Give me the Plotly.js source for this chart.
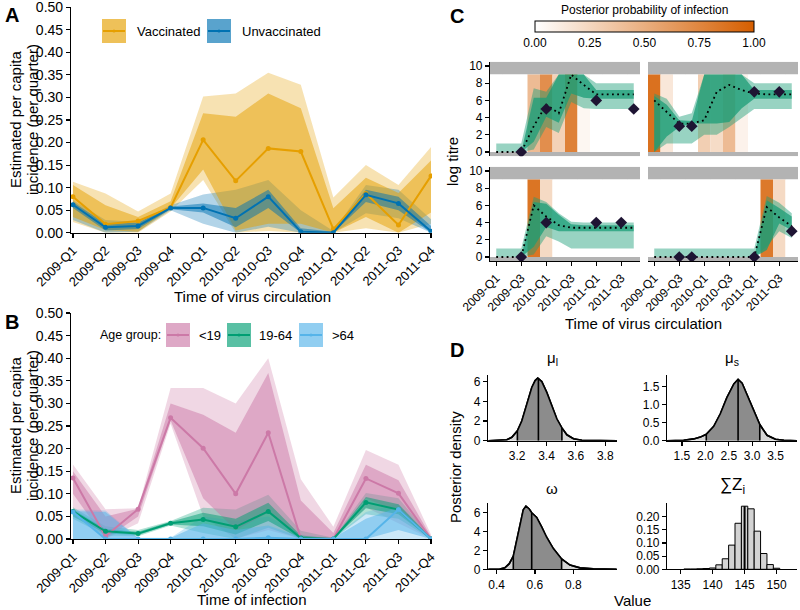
<!DOCTYPE html>
<html><head><meta charset="utf-8">
<script src="https://cdn.plot.ly/plotly-3.0.1.min.js"></script>
<style>body{margin:0;padding:0;background:#fff}#chart{width:800px;height:610px}</style>
</head><body><div id="chart"></div>
<script>
// ---------- DATA ----------
const quarters = ['2009-Q1','2009-Q2','2009-Q3','2009-Q4','2010-Q1','2010-Q2','2010-Q3','2010-Q4','2011-Q1','2011-Q2','2011-Q3','2011-Q4'];

// Panel A: vaccinated / unvaccinated incidence
const vacMed   = [0.080,0.019,0.026,0.056,0.206,0.115,0.187,0.180,0.008,0.087,0.017,0.126];
const vacInLo  = [0.035,0.006,0.002,0.054,0.140,0.005,0.020,0.020,0.000,0.035,0.000,0.045];
const vacInHi  = [0.106,0.061,0.035,0.070,0.265,0.257,0.309,0.276,0.054,0.122,0.088,0.160];
const vacOutLo = [0.024,0.000,0.000,0.047,0.117,0.000,0.004,0.000,0.000,0.010,0.000,0.020];
const vacOutHi = [0.113,0.087,0.047,0.087,0.302,0.309,0.355,0.328,0.078,0.150,0.106,0.190];
const unvMed   = [0.062,0.012,0.015,0.055,0.055,0.032,0.080,0.002,0.000,0.084,0.065,0.003];
const unvInLo  = [0.055,0.005,0.008,0.052,0.045,0.012,0.055,0.000,0.000,0.068,0.050,0.000];
const unvInHi  = [0.068,0.020,0.022,0.058,0.065,0.055,0.095,0.010,0.002,0.095,0.080,0.015];
const unvOutLo = [0.028,0.000,0.002,0.050,0.020,0.000,0.013,0.000,0.000,0.043,0.032,0.000];
const unvOutHi = [0.072,0.028,0.024,0.061,0.085,0.095,0.117,0.050,0.004,0.106,0.095,0.030];

// Panel B: age groups
const ageGroups = ['<19','19-64','>64'];
const yngMed   = [0.135,0.006,0.066,0.268,0.201,0.100,0.235,0.001,0.000,0.134,0.101,0.000];
const yngInLo  = [0.100,0.000,0.050,0.262,0.090,0.020,0.058,0.000,0.000,0.090,0.060,0.000];
const yngInHi  = [0.150,0.050,0.067,0.300,0.275,0.235,0.367,0.085,0.013,0.164,0.130,0.005];
const yngOutLo = [0.060,0.000,0.035,0.255,0.050,0.000,0.020,0.000,0.000,0.070,0.035,0.000];
const yngOutHi = [0.165,0.066,0.068,0.334,0.334,0.300,0.400,0.132,0.027,0.197,0.164,0.010];
const adlMed   = [0.061,0.017,0.012,0.035,0.043,0.027,0.061,0.002,0.000,0.081,0.065,0.000];
const adlInLo  = [0.050,0.012,0.009,0.032,0.028,0.010,0.040,0.000,0.000,0.068,0.055,0.000];
const adlInHi  = [0.066,0.022,0.016,0.038,0.058,0.045,0.080,0.008,0.001,0.093,0.077,0.002];
const adlOutLo = [0.045,0.008,0.006,0.030,0.013,0.000,0.025,0.000,0.000,0.055,0.045,0.000];
const adlOutHi = [0.070,0.028,0.020,0.040,0.069,0.065,0.098,0.018,0.003,0.102,0.090,0.005];
const oldMed   = [0.060,0.000,0.000,0.000,0.000,0.000,0.003,0.000,0.000,0.000,0.065,0.000];
const oldInLo  = [0.000,0.000,0.000,0.000,0.000,0.000,0.000,0.000,0.000,0.000,0.020,0.000];
const oldInHi  = [0.062,0.060,0.002,0.002,0.035,0.020,0.030,0.005,0.002,0.045,0.070,0.002];
const oldOutLo = [0.000,0.000,0.000,0.000,0.000,0.000,0.000,0.000,0.000,0.000,0.000,0.000];
const oldOutHi = [0.066,0.063,0.003,0.003,0.050,0.040,0.050,0.010,0.003,0.060,0.078,0.004];

// Panel C: four individuals (titre trajectories)
const cTickVals = [0,2,4,6,8,10];
const cTickText = ['2009-Q1','2009-Q3','2010-Q1','2010-Q3','2011-Q1','2011-Q3'];
const titreTicks = [0,2,4,6,8,10];
const detectLow = [-0.5, 0];
const detectHigh = [9, 10.5];
const probTop = 9;
const tlProb = [0,0,0,0.42,0.70,0.28,0.78,0.05,0,0,0,0];
const trProb = [0.88,0.15,0,0,0.30,0.22,0.42,0.08,0,0,0,0];
const blProb = [0,0,0,0.86,0.23,0,0,0,0,0,0,0];
const brProb = [0,0,0,0,0,0,0,0,0,0.83,0.23,0];
const tlLightLo = [0,0,0,0.3,2.9,2.2,5.8,5.1,5.0,5.0,5.0,5.0];
const tlLightHi = [1,1,1,7.4,7.0,9,9,9,8.0,8.0,8.0,8.0];
const tlDarkLo  = [0,0,0,1.2,4.1,3.4,6.8,6.3,6.2,6.2,6.2,6.2];
const tlDarkHi  = [0,0,0,6.3,6.3,9,9,9,7.2,7.2,7.2,7.2];
const tlMed     = [0,0,0,3.0,5.5,4.5,9.0,7.8,6.7,6.7,6.7,6.7];
const trLightLo = [0,1.0,1.0,1.0,2.0,2.0,2.9,4.0,5.0,5.0,5.0,5.0];
const trLightHi = [6.8,6.2,4.1,4.5,9,9,9,9,8.0,8.0,8.0,8.0];
const trDarkLo  = [0,1.8,2.9,3.3,3.3,3.3,3.5,5.1,6.2,6.2,6.2,6.2];
const trDarkHi  = [6.5,5.5,3.7,3.6,9,9,9,9,7.2,7.2,7.2,7.2];
const trMed     = [6.0,4.7,3.3,3.3,3.7,7.0,7.8,7.2,6.8,6.7,6.7,6.7];
const blLightLo = [0,0,0,0.3,2.4,1.8,1.0,1.0,1.0,1.0,1.0,1.0];
const blLightHi = [1,1,1,7.0,6.4,5.1,4.1,4.0,4.0,4.0,4.0,4.0];
const blDarkLo  = [0,0,0,1.2,3.5,3.0,3.0,3.0,3.0,3.0,3.0,3.0];
const blDarkHi  = [0,0,0,6.4,6.2,4.9,3.8,3.7,3.7,3.7,3.7,3.7];
const blMed     = [0,0,0,6.0,4.7,3.7,3.4,3.4,3.4,3.4,3.4,3.4];
const brLightLo = [0,0,0,0,0,0,0,0,0,1.2,3.0,2.2];
const brLightHi = [1,1,1,1,1,1,1,1,1,7.1,6.3,5.1];
const brDarkLo  = [0,0,0,0,0,0,0,0,0,0.8,3.9,3.1];
const brDarkHi  = [0,0,0,0,0,0,0,0,0,6.6,5.7,4.7];
const brMed     = [0,0,0,0,0,0,0,0,0,5.8,4.6,3.6];
const tlObsX = [2,4,8,11], tlObsY = [0,5,6,5];
const trObsX = [2,3,8,10], trObsY = [3,3,7,7];
const blObsX = [2,4,8,10], blObsY = [0,4,4,4];
const brObsX = [2,3,8,11], brObsY = [0,0,0,3];

// Panel D: posterior densities
const mulX = [3.004,3.084,3.13,3.164,3.202,3.232,3.266,3.3,3.323,3.341,3.345,3.368,3.402,3.437,3.471,3.505,3.539,3.584,3.641,3.766,3.88];
const mulD = [0,0.02,0.1,0.35,1.0,2.0,3.8,5.4,6.1,6.35,6.3,6.0,4.9,3.5,2.2,1.3,0.6,0.2,0.05,0.005,0];
const mulQ = [3.202,3.345,3.505];
const musX = [1.18,1.536,1.75,1.893,2.02,2.18,2.32,2.46,2.61,2.7,2.786,2.89,3.0,3.164,3.32,3.5,3.68,3.96];
const musD = [0,0.01,0.05,0.1,0.18,0.4,0.75,1.2,1.58,1.71,1.6,1.3,0.95,0.45,0.15,0.04,0.01,0];
const musQ = [2.02,2.7,3.164];
const omX = [0.357,0.417,0.443,0.466,0.487,0.504,0.522,0.539,0.553,0.57,0.583,0.609,0.635,0.661,0.696,0.739,0.783,0.835,0.904,1.026];
const omD = [0,0.02,0.15,0.6,1.4,3.0,5.0,6.3,6.7,6.4,6.0,5.5,4.5,3.4,2.2,1.1,0.45,0.15,0.04,0];
const omQ = [0.487,0.583,0.739];
const sumZVals = [136,137,138,139,140,141,142,143,144,145,146,147,148,149,150];
const sumZProb = [0.001,0.001,0.002,0.003,0.005,0.017,0.040,0.092,0.175,0.240,0.230,0.145,0.060,0.018,0.004];
const sumZMed = 145;

// ---------- STYLE ----------
const FONT = 'Liberation Sans, Arial, Helvetica, sans-serif';
const cOrange = [230,159,0], cBlue = [0,114,178];
const cPink = [204,121,167], cGreen = [0,158,115], cSky = [86,180,233];
const cTeal = [27,158,119];
const rgba = (c,a) => `rgba(${c[0]},${c[1]},${c[2]},${a})`;
const OUT = 0.3, INN = 0.5;
const W = 800, H = 610;
const px = p => p / W, py = p => 1 - p / H;
const qIdx = quarters.map((q,i) => i);

const traces = [];
function ribbon(xs, lo, hi, xa, ya, color) {
  return {type:'scatter', mode:'lines', x: xs.concat(xs.slice().reverse()),
    y: lo.concat(hi.slice().reverse()), fill:'toself', fillcolor: color,
    line:{width:0}, hoverinfo:'skip', xaxis:xa, yaxis:ya, showlegend:false};
}
function medLine(xs, ys, xa, ya, c) {
  return {type:'scatter', mode:'lines+markers', x: xs, y: ys, xaxis:xa, yaxis:ya,
    line:{color: rgba(c,1), width:2}, marker:{color: rgba(c,1), size:5}, showlegend:false};
}

// Panel A
traces.push(ribbon(qIdx, vacOutLo, vacOutHi, 'x','y', rgba(cOrange,OUT)));
traces.push(ribbon(qIdx, unvOutLo, unvOutHi, 'x','y', rgba(cBlue,OUT)));
traces.push(ribbon(qIdx, vacInLo, vacInHi, 'x','y', rgba(cOrange,INN)));
traces.push(ribbon(qIdx, unvInLo, unvInHi, 'x','y', rgba(cBlue,INN)));
traces.push(medLine(qIdx, vacMed, 'x','y', cOrange));
traces.push(medLine(qIdx, unvMed, 'x','y', cBlue));

// Panel B
traces.push(ribbon(qIdx, yngOutLo, yngOutHi, 'x2','y2', rgba(cPink,OUT)));
traces.push(ribbon(qIdx, adlOutLo, adlOutHi, 'x2','y2', rgba(cGreen,OUT)));
traces.push(ribbon(qIdx, oldOutLo, oldOutHi, 'x2','y2', rgba(cSky,OUT)));
traces.push(ribbon(qIdx, yngInLo, yngInHi, 'x2','y2', rgba(cPink,INN)));
traces.push(ribbon(qIdx, adlInLo, adlInHi, 'x2','y2', rgba(cGreen,INN)));
traces.push(ribbon(qIdx, oldInLo, oldInHi, 'x2','y2', rgba(cSky,INN)));
traces.push(medLine(qIdx, yngMed, 'x2','y2', cPink));
traces.push(medLine(qIdx, adlMed, 'x2','y2', cGreen));
traces.push(medLine(qIdx, oldMed, 'x2','y2', cSky));

// Panel C
const probScale = [[0,'#FFFFFF'],[1,'#D55E00']];
const panelsC = [
  {xa:'x3', ya:'y3', prob:tlProb, lLo:tlLightLo, lHi:tlLightHi, dLo:tlDarkLo, dHi:tlDarkHi, med:tlMed, ox:tlObsX, oy:tlObsY},
  {xa:'x4', ya:'y4', prob:trProb, lLo:trLightLo, lHi:trLightHi, dLo:trDarkLo, dHi:trDarkHi, med:trMed, ox:trObsX, oy:trObsY},
  {xa:'x5', ya:'y5', prob:blProb, lLo:blLightLo, lHi:blLightHi, dLo:blDarkLo, dHi:blDarkHi, med:blMed, ox:blObsX, oy:blObsY},
  {xa:'x6', ya:'y6', prob:brProb, lLo:brLightLo, lHi:brLightHi, dLo:brDarkLo, dHi:brDarkHi, med:brMed, ox:brObsX, oy:brObsY}
];
panelsC.forEach((p, k) => {
  const bar = {type:'bar', x: qIdx, y: qIdx.map(() => probTop), base: 0, width: 1,
    xaxis:p.xa, yaxis:p.ya, hoverinfo:'skip', showlegend:false,
    marker:{color: p.prob, colorscale: probScale, cmin:0, cmax:1, line:{width:0}, showscale: k === 0}};
  if (k === 0) {
    bar.marker.colorbar = {orientation:'h', x: px(644.5), xanchor:'center', y: py(47), yanchor:'bottom',
      len:219, lenmode:'pixels', thickness:11, thicknessmode:'pixels',
      outlinecolor:'#000', outlinewidth:1, xpad:0, ypad:0, ticks:'',
      tickvals:[0,0.25,0.5,0.75,1], ticktext:['0.00','0.25','0.50','0.75','1.00'],
      tickfont:{size:12, family:FONT, color:'#000'}, ticklabelposition:'outside bottom'};
  }
  traces.push(bar);
  traces.push(ribbon(qIdx, p.lLo, p.lHi, p.xa, p.ya, rgba(cTeal,0.45)));
  traces.push(ribbon(qIdx, p.dLo, p.dHi, p.xa, p.ya, rgba(cTeal,0.75)));
  traces.push({type:'scatter', mode:'lines', x: qIdx, y: p.med, xaxis:p.xa, yaxis:p.ya,
    line:{color:'#000', width:1.8, dash:'1.8px,3.4px'}, showlegend:false});
  traces.push({type:'scatter', mode:'markers', x: p.ox, y: p.oy, xaxis:p.xa, yaxis:p.ya,
    marker:{symbol:'diamond', size:9, color:'#1E1433'}, showlegend:false});
});

// Panel D densities
function densityTraces(xs, ds, qs, xa, ya) {
  const out = [];
  out.push({type:'scatter', mode:'lines', x: xs, y: ds, xaxis:xa, yaxis:ya, fill:'tozeroy',
    fillcolor:'#D3D3D3', line:{color:'#000', width:1.6}, showlegend:false});
  const mx = [], my = [];
  xs.forEach((v, i) => { if (v >= qs[0] && v <= qs[2]) { mx.push(v); my.push(ds[i]); } });
  out.push({type:'scatter', mode:'lines', x: [qs[0]].concat(mx, [qs[2]]), y: [0].concat(my, [0]),
    xaxis:xa, yaxis:ya, fill:'toself', fillcolor:'#8C8C8C', line:{width:0}, showlegend:false});
  out.push({type:'scatter', mode:'lines', x: xs, y: ds, xaxis:xa, yaxis:ya,
    line:{color:'#000', width:1.6}, showlegend:false});
  const lx = [], ly = [];
  qs.forEach(q => { const i = xs.indexOf(q); lx.push(q, q, null); ly.push(0, ds[i], null); });
  out.push({type:'scatter', mode:'lines', x: lx, y: ly, xaxis:xa, yaxis:ya,
    line:{color:'#000', width:1.6}, showlegend:false});
  return out;
}
traces.push(...densityTraces(mulX, mulD, mulQ, 'x7','y7'));
traces.push(...densityTraces(musX, musD, musQ, 'x8','y8'));
traces.push(...densityTraces(omX, omD, omQ, 'x9','y9'));
traces.push({type:'bar', x: sumZVals, y: sumZProb, width:1, xaxis:'x10', yaxis:'y10',
  marker:{color:'#D3D3D3', line:{color:'#000', width:1}}, showlegend:false});
traces.push({type:'scatter', mode:'lines', x:[sumZMed, sumZMed],
  y:[0, sumZProb[sumZVals.indexOf(sumZMed)]], xaxis:'x10', yaxis:'y10',
  line:{color:'#000', width:2}, showlegend:false});

// ---------- AXES ----------
function axis(domain, range, anchor, extra) {
  return Object.assign({domain, range, anchor, showgrid:false, zeroline:false, showline:true,
    linecolor:'#000', linewidth:1.1, ticks:'outside', ticklen:4, tickwidth:1.1, tickcolor:'#000',
    tickfont:{size:13, color:'#000', family:FONT}, fixedrange:true, ticklabeloverflow:'allow'}, extra || {});
}
const none = {showline:false, ticks:'', showticklabels:false};
const f12 = {size:12, color:'#000', family:FONT};
const f14 = {size:14, color:'#000', family:FONT};
const layout = {
  width: W, height: H, margin:{l:0,r:0,t:0,b:0}, paper_bgcolor:'#fff', plot_bgcolor:'rgba(0,0,0,0)',
  showlegend:false, font:{family:FONT, color:'#000', size:13}, barmode:'overlay',
  xaxis: axis([px(71), px(432)], [-0.06, 11.03], 'y', {tickvals: qIdx, ticktext: quarters, tickangle:-45}),
  yaxis: axis([py(232.7), py(7.3)], [0, 0.5], 'x', {dtick:0.05, tick0:0, tickformat:'.2f', tickfont:f14}),
  xaxis2: axis([px(71), px(432)], [-0.06, 11.03], 'y2', {tickvals: qIdx, ticktext: quarters, tickangle:-45}),
  yaxis2: axis([py(539), py(313)], [0, 0.5], 'x2', {dtick:0.05, tick0:0, tickformat:'.2f', tickfont:f14}),
  xaxis3: axis([px(490), px(640)], [-0.5, 11.5], 'y3', none),
  yaxis3: axis([py(156.3), py(61.7)], [-0.5, 10.5], 'x3', {tickvals: titreTicks, tickfont:f12}),
  xaxis4: axis([px(648), px(798)], [-0.5, 11.5], 'y4', none),
  yaxis4: axis([py(156.3), py(61.7)], [-0.5, 10.5], 'x4', none),
  xaxis5: axis([px(490), px(640)], [-0.5, 11.5], 'y5', {tickvals: cTickVals, ticktext: cTickText, tickangle:-45, tickfont:f12}),
  yaxis5: axis([py(261.3), py(166.7)], [-0.5, 10.5], 'x5', {tickvals: titreTicks, tickfont:f12}),
  xaxis6: axis([px(648), px(798)], [-0.5, 11.5], 'y6', {tickvals: cTickVals, ticktext: cTickText, tickangle:-45, tickfont:f12}),
  yaxis6: axis([py(261.3), py(166.7)], [-0.5, 10.5], 'x6', none),
  xaxis7: axis([px(488), px(617)], [3.002, 3.88], 'y7', {tickvals:[3.2,3.4,3.6,3.8], tickformat:'.1f', tickfont:f12}),
  yaxis7: axis([py(440.7), py(375)], [0, 6.67], 'x7', {tickvals:[0,2,4,6], tickfont:f12}),
  xaxis8: axis([px(667), px(797)], [1.18, 3.96], 'y8', {tickvals:[1.5,2,2.5,3,3.5], tickformat:'.1f', tickfont:f12}),
  yaxis8: axis([py(440.7), py(375)], [0, 1.83], 'x8', {tickvals:[0,0.5,1,1.5], tickformat:'.1f', tickfont:f12}),
  xaxis9: axis([px(488), px(617)], [0.355, 1.028], 'y9', {tickvals:[0.4,0.6,0.8], tickformat:'.1f', tickfont:f12}),
  yaxis9: axis([py(569.3), py(503.3)], [0, 7.0], 'x9', {tickvals:[0,2,4,6], tickfont:f12}),
  xaxis10: axis([px(667), px(797)], [132.86, 153.2], 'y10', {tickvals:[135,140,145,150], tickfont:f12}),
  yaxis10: axis([py(569.3), py(503.3)], [0, 0.251], 'x10', {tickvals:[0,0.05,0.1,0.15,0.2], tickformat:'.2f', tickfont:f12}),
  shapes: [], annotations: []
};

// gray detection-limit bands in panel C
['3','4','5','6'].forEach(n => {
  [detectLow, detectHigh].forEach(b => {
    layout.shapes.push({type:'rect', xref:'x'+n+' domain', yref:'y'+n, x0:0, x1:1, y0:b[0], y1:b[1],
      fillcolor:'#B3B3B3', line:{width:0}, layer:'below'});
  });
});

// legends (manual keys)
function key(x0, y0, c) {
  layout.shapes.push({type:'rect', xref:'paper', yref:'paper', x0:px(x0), x1:px(x0+24), y0:py(y0+24), y1:py(y0),
    fillcolor: rgba(c,OUT), line:{width:0}});
  layout.shapes.push({type:'rect', xref:'paper', yref:'paper', x0:px(x0), x1:px(x0+24), y0:py(y0+24), y1:py(y0),
    fillcolor: rgba(c,INN), line:{width:0}});
  layout.shapes.push({type:'line', xref:'paper', yref:'paper', x0:px(x0+1), x1:px(x0+23), y0:py(y0+12), y1:py(y0+12),
    line:{color: rgba(c,1), width:2}});
  layout.shapes.push({type:'circle', xref:'paper', yref:'paper', x0:px(x0+10.5), x1:px(x0+13.5), y0:py(y0+13.5), y1:py(y0+10.5),
    fillcolor: rgba(c,1), line:{width:0}});
}
function txt(t, x, y, o) {
  layout.annotations.push(Object.assign({text:t, x:px(x), y:py(y), xref:'paper', yref:'paper', showarrow:false,
    xanchor:'center', yanchor:'middle', font:{size:15, family:FONT, color:'#000'}}, o || {}));
}
const f13 = {size:13, family:FONT, color:'#000'};
key(102, 19, cOrange); txt('Vaccinated', 135, 31, {xanchor:'left', font:f13});
key(207, 19, cBlue); txt('Unvaccinated', 240, 31, {xanchor:'left', font:f13});
txt('Age group:', 98, 335, {xanchor:'left', font:{size:12.5, family:FONT, color:'#000'}});
key(166, 323, cPink); txt(ageGroups[0], 197, 335, {xanchor:'left', font:f13});
key(227, 323, cGreen); txt(ageGroups[1], 257, 335, {xanchor:'left', font:f13});
key(299, 323, cSky); txt(ageGroups[2], 330, 335, {xanchor:'left', font:f13});

// colorbar title
txt('Posterior probability of infection', 644.5, 10, {font:{size:12, family:FONT, color:'#000'}});

// panel letters
['A','B','C','D'].forEach((l, i) => {
  const pos = [[12,15],[12,322],[457,16],[457,350]][i];
  txt('<b>'+l+'</b>', pos[0], pos[1], {font:{size:20, family:FONT, color:'#000'}});
});
// axis titles
txt('Estimated per capita', 15, 120, {textangle:-90});
txt('incidence (per quarter)', 32, 120, {textangle:-90});
txt('Estimated per capita', 15, 426, {textangle:-90});
txt('incidence (per quarter)', 32, 426, {textangle:-90});
txt('Time of virus circulation', 252, 297);
txt('Time of infection', 252, 599);
txt('log titre', 452, 161, {textangle:-90});
txt('Time of virus circulation', 643, 324);
txt('Posterior density', 455, 467, {textangle:-90});
txt('Value', 632, 600);
txt('μ<sub>l</sub>', 552, 358);
txt('μ<sub>s</sub>', 732, 358);
txt('ω', 552, 488);
txt('∑Z<sub>i</sub>', 732, 486, {font:{size:17, family:FONT, color:'#000'}});

Plotly.newPlot('chart', traces, layout, {staticPlot:true, displayModeBar:false});
</script></body></html>
